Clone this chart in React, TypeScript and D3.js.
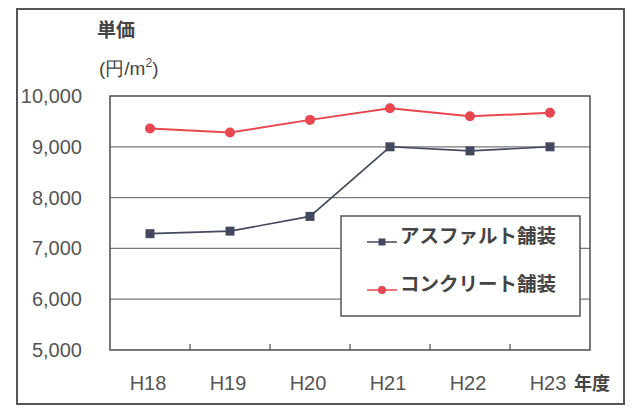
import React, { useEffect, useRef } from 'react'
import * as d3 from 'd3'

const years = ['H18', 'H19', 'H20', 'H21', 'H22', 'H23']
const asphalt = [7290, 7340, 7630, 9000, 8920, 9000]
const concrete = [9360, 9280, 9530, 9760, 9600, 9670]
const yTicks = [5000, 6000, 7000, 8000, 9000, 10000]
const seriesNames = ['アスファルト舗装', 'コンクリート舗装']

const width = 633
const height = 408

const App = () => {
  const svgRef = useRef<SVGSVGElement>(null)

  useEffect(() => {
    const svg = d3.select(svgRef.current)
    svg.selectAll('*').remove()

    const left = 110
    const right = 590
    const top = 96
    const bottom = 350
    const fontNum = '"Liberation Sans", Arial, sans-serif'
    const fontJp = '"Noto Sans CJK JP", sans-serif'

    // outer frame
    svg
      .append('rect')
      .attr('x', 17)
      .attr('y', 9)
      .attr('width', 607)
      .attr('height', 395)
      .attr('fill', '#fff')
      .attr('stroke', '#555')
      .attr('stroke-width', 2)

    const x = d3.scaleBand().domain(years).range([left, right])
    const y = d3.scaleLinear().domain([5000, 10000]).range([bottom, top])

    // grid lines
    svg
      .append('g')
      .selectAll('line')
      .data(yTicks.filter(d => d > 5000 && d < 10000))
      .enter()
      .append('line')
      .attr('x1', left)
      .attr('x2', right)
      .attr('y1', d => y(d))
      .attr('y2', d => y(d))
      .attr('stroke', '#777')
      .attr('stroke-width', 1.3)

    // plot border
    svg
      .append('rect')
      .attr('x', left)
      .attr('y', top)
      .attr('width', right - left)
      .attr('height', bottom - top)
      .attr('fill', 'none')
      .attr('stroke', '#555')
      .attr('stroke-width', 1.6)

    // y labels
    svg
      .append('g')
      .selectAll('text')
      .data(yTicks)
      .enter()
      .append('text')
      .attr('x', 82)
      .attr('y', d => y(d) + 7)
      .attr('text-anchor', 'end')
      .attr('font-family', fontNum)
      .attr('font-size', 20)
      .attr('fill', '#555')
      .text(d => d3.format(',')(d))

    // x ticks at category boundaries
    svg
      .append('g')
      .selectAll('line')
      .data(years.slice(1))
      .enter()
      .append('line')
      .attr('x1', d => x(d))
      .attr('x2', d => x(d))
      .attr('y1', bottom)
      .attr('y2', bottom - 6)
      .attr('stroke', '#555')
      .attr('stroke-width', 1.3)

    // x labels
    svg
      .append('g')
      .selectAll('text')
      .data(years)
      .enter()
      .append('text')
      .attr('x', d => x(d) + x.bandwidth() / 2 - 2)
      .attr('y', 390)
      .attr('text-anchor', 'middle')
      .attr('font-family', fontNum)
      .attr('font-size', 20)
      .attr('fill', '#555')
      .text(d => d)

    svg
      .append('text')
      .attr('x', 574)
      .attr('y', 390)
      .attr('font-family', fontJp)
      .attr('font-weight', 700)
      .attr('font-size', 18)
      .attr('fill', '#444')
      .text('年度')

    svg
      .append('text')
      .attr('x', 97)
      .attr('y', 37)
      .attr('font-family', fontJp)
      .attr('font-weight', 700)
      .attr('font-size', 19)
      .attr('fill', '#444')
      .text('単価')

    const unit = svg
      .append('text')
      .attr('x', 99)
      .attr('y', 75)
      .attr('font-family', fontNum)
      .attr('font-size', 19)
      .attr('fill', '#444')
    unit.append('tspan').text('(円/m')
    unit.append('tspan').attr('font-size', 12).attr('dy', -8).text('2')
    unit.append('tspan').attr('dy', 8).text(')')

    const cx = (d: string) => x(d) + x.bandwidth() / 2
    const line = d3
      .line<number>()
      .x((d, i) => cx(years[i]))
      .y(d => y(d))

    // concrete
    svg
      .append('path')
      .attr('d', line(concrete))
      .attr('fill', 'none')
      .attr('stroke', '#e8474f')
      .attr('stroke-width', 2)
    svg
      .append('g')
      .selectAll('circle')
      .data(concrete)
      .enter()
      .append('circle')
      .attr('cx', (d, i) => cx(years[i]))
      .attr('cy', d => y(d))
      .attr('r', 5)
      .attr('fill', '#e8474f')

    // asphalt
    svg
      .append('path')
      .attr('d', line(asphalt))
      .attr('fill', 'none')
      .attr('stroke', '#42485e')
      .attr('stroke-width', 1.6)
    svg
      .append('g')
      .selectAll('rect')
      .data(asphalt)
      .enter()
      .append('rect')
      .attr('x', (d, i) => cx(years[i]) - 4.5)
      .attr('y', d => y(d) - 4.5)
      .attr('width', 9)
      .attr('height', 9)
      .attr('fill', '#42485e')

    // legend
    const lg = svg.append('g')
    lg.append('rect')
      .attr('x', 341)
      .attr('y', 216)
      .attr('width', 239)
      .attr('height', 100)
      .attr('fill', '#fff')
      .attr('stroke', '#555')
      .attr('stroke-width', 1.5)

    const colors = ['#42485e', '#e8474f']
    seriesNames.forEach((name, i) => {
      const ly = 242 + i * 48
      lg.append('line')
        .attr('x1', 367)
        .attr('x2', 397)
        .attr('y1', ly)
        .attr('y2', ly)
        .attr('stroke', colors[i])
        .attr('stroke-width', 1.5)
      if (i === 0) {
        lg.append('rect')
          .attr('x', 378.5)
          .attr('y', ly - 3.5)
          .attr('width', 7)
          .attr('height', 7)
          .attr('fill', colors[i])
      } else {
        lg.append('circle').attr('cx', 382).attr('cy', ly).attr('r', 4).attr('fill', colors[i])
      }
      lg.append('text')
        .attr('x', 400)
        .attr('y', ly + 1)
        .attr('font-family', fontJp)
        .attr('font-weight', 700)
        .attr('font-size', 19.5)
        .attr('fill', '#444')
        .text(name)
    })
  }, [])

  return (
    <svg
      ref={svgRef}
      width={width}
      height={height}
      style={{ position: 'absolute', left: 0, top: 0, background: '#fff' }}
    />
  )
}

export default App
